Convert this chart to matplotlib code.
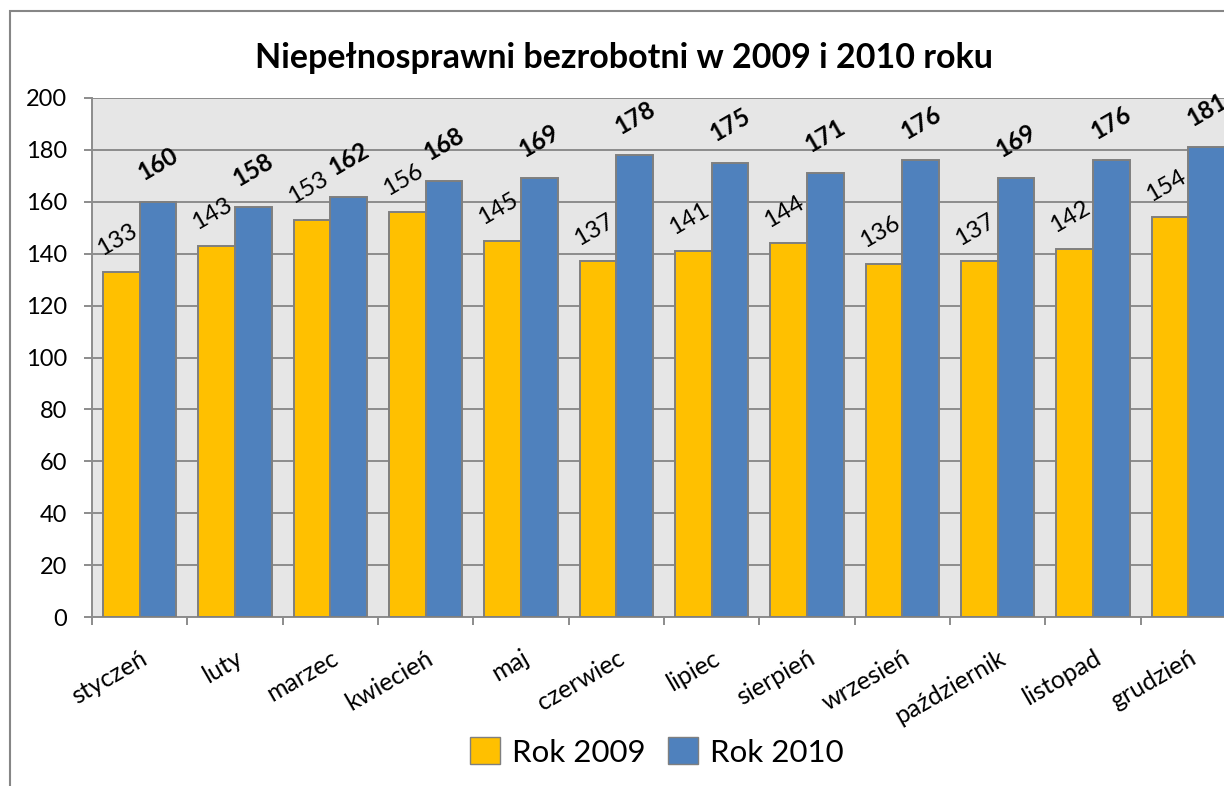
import matplotlib
matplotlib.use('Agg')
import matplotlib.pyplot as plt
from matplotlib.patches import Patch, Rectangle
import numpy as np

months = ['styczeń', 'luty', 'marzec', 'kwiecień', 'maj', 'czerwiec',
          'lipiec', 'sierpień', 'wrzesień', 'październik', 'listopad', 'grudzień']
rok_2009 = [133, 143, 153, 156, 145, 137, 141, 144, 136, 137, 142, 154]
rok_2010 = [160, 158, 162, 168, 169, 178, 175, 171, 176, 169, 176, 181]
y_ticks = [0, 20, 40, 60, 80, 100, 120, 140, 160, 180, 200]
title = 'Niepełnosprawni bezrobotni w 2009 i 2010 roku'

plt.rcParams['font.family'] = ['Lato', 'DejaVu Sans']

YELLOW = '#FFC000'
BLUE = '#4F81BD'
EDGE = '#7F7F7F'
GRID = '#8C8C8C'

W, H = 1224, 786
fig = plt.figure(figsize=(W / 100, H / 100), dpi=100)

# plot area runs past the right edge, like the cropped original
left, right, top, bottom = 92, 1236, 98, 617
ax = fig.add_axes([left / W, 1 - bottom / H, (right - left) / W, (bottom - top) / H])
ax.set_facecolor('#E6E6E6')

x = np.arange(len(months))
bw = 0.383
ax.bar(x - bw / 2, rok_2009, bw, color=YELLOW, edgecolor=EDGE, linewidth=1.4, zorder=3)
ax.bar(x + bw / 2, rok_2010, bw, color=BLUE, edgecolor=EDGE, linewidth=1.4, zorder=3)

for xi, v in zip(x, rok_2009):
    ax.annotate(str(v), (xi - bw / 2, v), xytext=(-3, 23), textcoords='offset points',
                rotation=30, rotation_mode='anchor', ha='center', va='center',
                fontsize=17.5, zorder=4)
for xi, v in zip(x, rok_2010):
    ax.annotate(str(v), (xi + bw / 2, v), xytext=(0, 27), textcoords='offset points',
                rotation=30, rotation_mode='anchor', ha='center', va='center',
                fontsize=17.5, fontweight='bold', zorder=4)

ax.set_xlim(-0.5, len(months) - 0.5)
ax.set_ylim(0, 200)
ax.set_yticks(y_ticks)
ax.yaxis.grid(True, color=GRID, linewidth=1.4, zorder=0)
ax.tick_params(axis='y', length=6, width=1.4, color=GRID, pad=12, labelsize=17)

ax.set_xticks(np.arange(len(months) + 1) - 0.5)
ax.set_xticklabels([])
ax.tick_params(axis='x', which='major', length=6, width=1.4, color=GRID)
ax.set_xticks(x, minor=True)
ax.set_xticklabels(months, minor=True, rotation=30, ha='right', rotation_mode='anchor',
                   fontsize=18)
ax.tick_params(axis='x', which='minor', length=0, pad=21)

for s in ['top', 'right']:
    ax.spines[s].set_visible(False)
for s in ['left', 'bottom']:
    ax.spines[s].set_color(GRID)
    ax.spines[s].set_linewidth(1.4)

fig.text(624 / W, 1 - 58 / H, title, ha='center', va='center', fontsize=24.5,
         fontweight='bold')

handles = [Patch(facecolor=YELLOW, edgecolor=EDGE, label='Rok 2009'),
           Patch(facecolor=BLUE, edgecolor=EDGE, label='Rok 2010')]
fig.legend(handles=handles, loc='center', bbox_to_anchor=(657 / W, 1 - 752 / H), ncol=2,
           frameon=False, fontsize=22.5, handlelength=0.95, handleheight=0.95,
           handletextpad=0.4, columnspacing=0.7)

# outer chart border
fig.patches.append(Rectangle((10 / W, -0.1), 1.2, 1.1 - 11 / H,
                             transform=fig.transFigure, fill=False,
                             edgecolor='#868686', linewidth=1.5))

fig.savefig('out.png', dpi=100)
